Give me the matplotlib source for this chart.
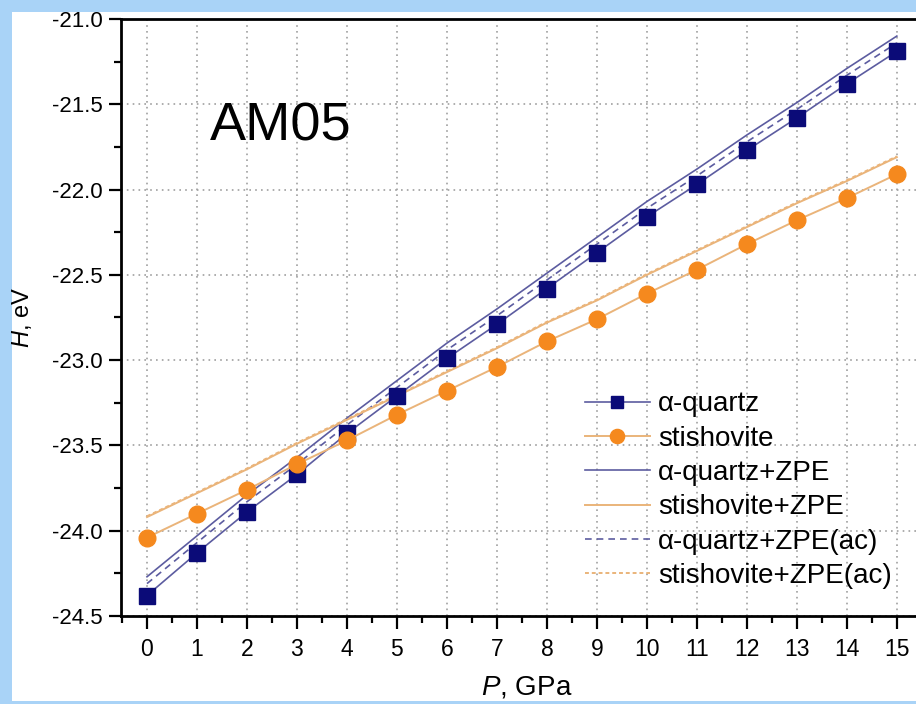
import numpy as np
import matplotlib.pyplot as plt
from matplotlib.patches import Rectangle
from matplotlib.ticker import MultipleLocator

# pressure, GPa
pressure = [0, 1, 2, 3, 4, 5, 6, 7, 8, 9, 10, 11, 12, 13, 14, 15]

# enthalpy, eV
quartz = [-24.38, -24.13, -23.89, -23.67, -23.43, -23.21, -22.99, -22.79,
          -22.58, -22.37, -22.16, -21.97, -21.77, -21.58, -21.38, -21.19]
stishovite = [-24.04, -23.90, -23.76, -23.61, -23.47, -23.32, -23.18, -23.04,
              -22.89, -22.76, -22.61, -22.47, -22.32, -22.18, -22.05, -21.91]
quartz_zpe = [-24.27, -24.03, -23.79, -23.57, -23.34, -23.12, -22.90, -22.70,
              -22.49, -22.28, -22.07, -21.88, -21.68, -21.49, -21.29, -21.10]
stishovite_zpe = [-23.92, -23.78, -23.64, -23.49, -23.35, -23.21, -23.07, -22.93,
                  -22.78, -22.65, -22.50, -22.36, -22.22, -22.08, -21.95, -21.81]
quartz_zpe_ac = [-24.31, -24.07, -23.83, -23.61, -23.38, -23.16, -22.94, -22.74,
                 -22.53, -22.32, -22.11, -21.92, -21.72, -21.53, -21.33, -21.14]
stishovite_zpe_ac = [-23.915, -23.775, -23.635, -23.485, -23.345, -23.205, -23.065, -22.925,
                     -22.775, -22.645, -22.495, -22.355, -22.215, -22.075, -21.945, -21.805]

NAVY = "#0b0b78"
ORANGE = "#f5891e"
BLUE_LINE = "#5c5ca0"
TAN_LINE = "#eab47a"

plt.rcParams["font.family"] = ["Liberation Sans", "DejaVu Sans"]
plt.rcParams["mathtext.fontset"] = "custom"
plt.rcParams["mathtext.it"] = "Liberation Sans:italic"
plt.rcParams["mathtext.rm"] = "Liberation Sans"

fig = plt.figure(figsize=(9.16, 7.04), dpi=100)
fig.patch.set_facecolor("#a9d3f7")
fig.patches.append(Rectangle((12 / 916, 3 / 704), 1.0, 1 - 15 / 704,
                             transform=fig.transFigure, facecolor="white",
                             edgecolor="none", zorder=-10))

ax = fig.add_axes([121 / 916, 1 - 616 / 704, 1 - 121 / 916 + 0.002, (616 - 19) / 704])
ax.set_facecolor("white")

ax.plot(pressure, quartz_zpe, color=BLUE_LINE, lw=1.2, label="α-quartz+ZPE", zorder=3)
ax.plot(pressure, quartz_zpe_ac, color=BLUE_LINE, lw=1.2, ls=(0, (4, 3)),
        label="α-quartz+ZPE(ac)", zorder=3)
ax.plot(pressure, stishovite_zpe, color=TAN_LINE, lw=1.4, label="stishovite+ZPE", zorder=3)
ax.plot(pressure, stishovite_zpe_ac, color=TAN_LINE, lw=1.4, ls=(0, (2, 1.5)),
        label="stishovite+ZPE(ac)", zorder=3)
ax.plot(pressure, quartz, color=BLUE_LINE, lw=1.2, marker="s", ms=11,
        mfc=NAVY, mec=NAVY, label="α-quartz", zorder=4)
ax.plot(pressure, stishovite, color=TAN_LINE, lw=1.4, marker="o", ms=12,
        mfc=ORANGE, mec=ORANGE, label="stishovite", zorder=4)

ax.set_xlim(-0.52, 15.42)
ax.set_ylim(-24.5, -21.0)
ax.xaxis.set_major_locator(MultipleLocator(1))
ax.xaxis.set_minor_locator(MultipleLocator(0.5))
ax.yaxis.set_major_locator(MultipleLocator(0.5))
ax.yaxis.set_minor_locator(MultipleLocator(0.25))
ax.yaxis.set_major_formatter(plt.FormatStrFormatter("%.1f"))

ax.grid(True, which="major", color="#a0a0a0", ls=(0, (1, 2.5)), lw=1.2)
ax.tick_params(which="major", direction="out", length=9, width=1.6, color="black",
               top=False, right=False)
ax.tick_params(which="minor", direction="out", length=5, width=1.6, color="black",
               top=False, right=False)
ax.tick_params(axis="y", labelsize=16, pad=4)
ax.tick_params(axis="x", labelsize=16.5, pad=7)
for side in ["left", "bottom", "top"]:
    ax.spines[side].set_linewidth(2.0)
ax.spines["right"].set_visible(False)

ax.set_xlabel(r"$P$, GPa", fontsize=20)
ax.xaxis.set_label_coords((527 - 121) / 797, -(687 - 616) / 597, transform=ax.transAxes)
ax.xaxis.label.set_va("center")
ax.set_ylabel(r"$H$, eV", fontsize=17)
ax.yaxis.set_label_coords(-(121 - 22) / 797, 0.5, transform=ax.transAxes)
ax.yaxis.label.set_va("center")

ax.text(0.112, 0.797, "AM05", transform=ax.transAxes, fontsize=39,
        color="black", zorder=5)

handles, labels = ax.get_legend_handles_labels()
order = [4, 5, 0, 2, 1, 3]
ax.legend([handles[i] for i in order], [labels[i] for i in order],
          loc="upper left", bbox_to_anchor=(0.568, 0.395), frameon=False,
          fontsize=20, handlelength=2.35, handletextpad=0.3, labelspacing=0.3,
          markerscale=0.85, borderaxespad=0)

fig.savefig("out.png", dpi=100, facecolor=fig.get_facecolor())
